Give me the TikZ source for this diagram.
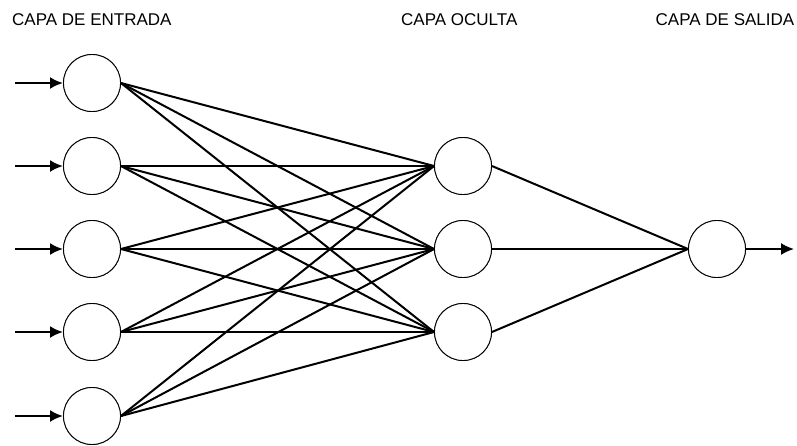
\documentclass[tikz,border=0pt]{standalone}
\usepackage{fontspec}
\setmainfont{Liberation Sans}
\usetikzlibrary{arrows.meta}
\begin{document}
\begin{tikzpicture}[x=1pt,y=-1pt,
  neuron/.style={circle,draw,line width=0.9pt,minimum size=57pt,inner sep=0pt,fill=white},
  link/.style={line width=2pt},
  signal/.style={line width=2.3pt,-{Latex[length=13pt,width=12pt]}},
  layertitle/.style={font=\fontsize{17}{18}\selectfont,anchor=base west,inner sep=0pt}]
\useasboundingbox (0,0) rectangle (797,445);
% layer titles
\node[layertitle] (tin) at (12,25) {CAPA DE ENTRADA};
\node[layertitle] (thid) at (401,25) {CAPA OCULTA};
\node[layertitle] (tout) at (655.5,25) {CAPA DE SALIDA};
% input layer
\foreach \i/\y in {1/83,2/166,3/249,4/332,5/416}{
  \node[neuron] (in\i) at (92,\y) {};
  \coordinate (src\i) at (15,\y);
}
% hidden layer
\foreach \j/\y in {1/166,2/249,3/332}{
  \node[neuron] (h\j) at (463,\y) {};
}
% output layer
\node[neuron] (out) at (717,249) {};
\coordinate (res) at (794,249);
% weights input -> hidden
\foreach \i in {1,...,5}{
  \foreach \j in {1,2,3}{
    \draw[link] (in\i.east) -- (h\j.west);
  }
}
% weights hidden -> output
\foreach \j in {1,2,3}{
  \draw[link] (h\j.east) -- (out.west);
}
% redraw neurons above the links
\foreach \i/\y in {1/83,2/166,3/249,4/332,5/416}{
  \node[neuron] at (92,\y) {};
}
\foreach \j/\y in {1/166,2/249,3/332}{
  \node[neuron] at (463,\y) {};
}
\node[neuron] at (717,249) {};
% input and output signals
\foreach \i in {1,...,5}{
  \draw[signal] (src\i) -- (in\i.west);
}
\draw[signal,line width=1.9pt] (out.east) -- (res);
\end{tikzpicture}
\end{document}
